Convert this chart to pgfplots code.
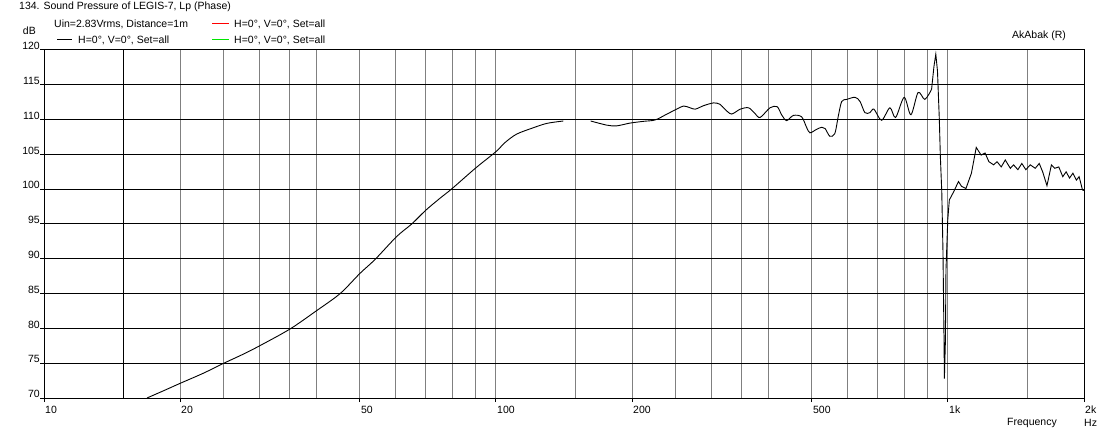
\documentclass[border=0pt]{standalone}
\usepackage{pgfplots}
\pgfplotsset{compat=1.18}
\usepackage{fontspec}
\setmainfont{Liberation Sans}
\definecolor{gridgray}{RGB}{128,128,128}
\definecolor{lgreen}{RGB}{0,230,0}
\begin{document}
\begin{tikzpicture}[font=\fontsize{10.5bp}{12.6bp}\selectfont]
\path[use as bounding box] (-44bp,-37bp) rectangle (1066bp,398bp);
\begin{axis}[
  at={(0,0)}, anchor=south west,
  scale only axis, width=1040bp, height=348bp,
  xmode=log, xmin=10, xmax=2000, ymin=70, ymax=120,
  log basis x=10,
  xtick={10,20,50,100,200,500,1000,2000},
  xticklabels={10,20,50,100,200,500,1k,2k},
  minor xtick={25,30,35,40,60,70,80,90,150,250,300,350,400,600,700,800,900,1500},
  ytick={70,75,...,120},
  grid=both,
  major x grid style={gridgray, line width=1bp},
  minor x grid style={gridgray, line width=1bp},
  major y grid style={black, line width=1bp},
  axis line style={black, line width=1bp},
  tickpos=left, tick align=outside,
  major tick length=4bp, minor tick length=0pt,
  every tick/.style={black, line width=1bp},
  /pgf/number format/assume math mode=true,
  ticklabel style={font=\fontsize{10.5bp}{12.6bp}\selectfont},
  xticklabel style={anchor=north west, inner sep=0pt, xshift=1bp, yshift=-4bp},
  yticklabel style={anchor=east, inner sep=0pt, xshift=0bp, yshift=4bp},
  clip=true,
]
\draw[black, line width=1bp] (axis cs:15,70) -- (axis cs:15,120);
\addplot[black, line width=0.9bp, smooth, tension=0.5] coordinates {
(16.9,70.0) (18.4,71.05) (20.0,72.1) (22.5,73.55) (25.0,75.0) (27.6,76.3)
(30,77.5) (35,79.9) (40,82.5) (45.2,85.0) (50,87.9) (54,89.9) (60.3,93.2)
(65.1,95.0) (70,97.0) (75.2,98.7) (80,100.1) (90,103.0) (100,105.4)
(104.7,106.7) (111,107.9) (120,108.75) (129.5,109.45) (141,109.8)
};
\addplot[black, line width=0.9bp, smooth, tension=0.5] coordinates {
(162,109.8) (176,109.2) (185,109.1) (198,109.5) (212,109.75) (225,109.95)
(239,110.8) (251,111.5) (260,111.95) (268.8,111.7) (276,111.5) (288,112.0)
(303,112.4) (313,112.2) (321,111.5) (332,110.8) (347,111.5) (362,111.7)
(374,110.9) (384,110.3) (404,111.7) (419,111.85) (428.5,110.7) (439.5,109.85)
(455,110.6) (474.5,110.4) (486.5,108.9) (495,108.1) (512,108.6) (526,108.9)
(535,108.7) (548,107.6) (562,108.0) (571.6,110.4) (582,112.6) (597,112.9)
(623,113.2) (639,112.6) (655,111.0) (672,111.0) (686,111.5) (713,109.9)
(744,111.7) (766,110.3) (800,113.2) (828,110.7) (859,113.9) (889,112.9)
(920,114.35)
};
\addplot[black, line width=0.9bp] coordinates {
(920,114.35) (931,117.6) (940,119.4) (948,117.0) (957,110.0) (962,104.7)
(969,99.6) (975,91.0) (980,78.8) (982,72.8) (987,78.1) (990,88.4)
(999,95.6) (1007,98.45) (1029,99.6) (1055,101.1) (1072,100.4) (1096,100.1)
(1127,102.3) (1155,106.0) (1184,104.9) (1208,105.2) (1232,103.95) (1262,103.5)
(1284,103.95) (1312,103.2) (1339,104.2) (1374,103.0) (1397,103.5) (1428,102.8)
(1457,103.7) (1487,102.8) (1521,103.5) (1560,103.0) (1592,103.7) (1620,102.5)
(1656,100.5) (1694,103.5) (1723,103.0) (1759,103.2) (1795,101.8) (1826,102.5)
(1858,101.6) (1890,102.3) (1924,101.3) (1951,101.8) (1985,99.9) (2000,99.8)
};
\end{axis}
\node[anchor=west, inner sep=0pt] at (-25bp,391bp) {134. Sound Pressure of LEGIS-7, Lp (Phase)};
\node[anchor=west, inner sep=0pt] at (10bp,374bp) {Uin=2.83Vrms, Distance=1m};
\draw[red, line width=1bp] (168bp,374bp) -- (185bp,374bp);
\node[anchor=west, inner sep=0pt] at (190bp,374bp) {H=0°, V=0°, Set=all};
\draw[black, line width=1bp] (13bp,358bp) -- (28bp,358bp);
\node[anchor=west, inner sep=0pt] at (34bp,358bp) {H=0°, V=0°, Set=all};
\draw[lgreen, line width=1bp] (168bp,358bp) -- (185bp,358bp);
\node[anchor=west, inner sep=0pt] at (190bp,358bp) {H=0°, V=0°, Set=all};
\node[anchor=east, inner sep=0pt] at (-8bp,367bp) {dB};
\node[anchor=west, inner sep=0pt] at (968bp,362bp) {AkAbak (R)};
\node[anchor=east, inner sep=0pt] at (1013bp,-25bp) {Frequency};
\node[anchor=west, inner sep=0pt] at (1040bp,-25bp) {Hz};
\end{tikzpicture}
\end{document}
